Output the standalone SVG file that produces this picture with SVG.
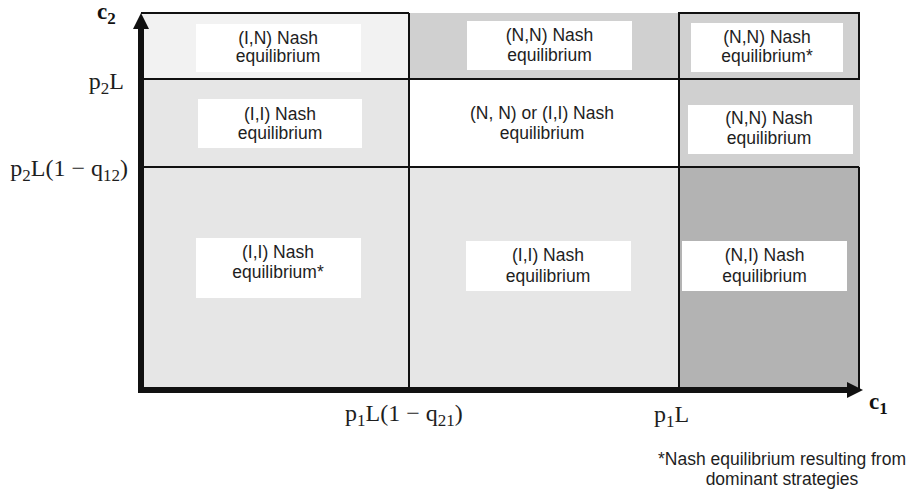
<svg xmlns="http://www.w3.org/2000/svg" width="914" height="489" viewBox="0 0 914 489">
  <defs>
    <style>
      .lbl { font-family: "Liberation Sans", Arial, Helvetica, sans-serif; font-size: 17.5px; fill: #1e1e1e; text-anchor: middle; }
      .box { fill: #ffffff; }
      .grid { stroke: #111111; stroke-width: 2; fill: none; }
      .math { font-family: "Liberation Serif", "Times New Roman", serif; font-size: 24px; fill: #1e1e1e; }
      .axisname { font-family: "Liberation Serif", "Times New Roman", serif; font-size: 23px; font-weight: bold; fill: #111111; }
      .sub { font-size: 17px; }
      .axis { stroke: #111111; stroke-width: 6; fill: none; }
    </style>
    <marker id="head" markerUnits="userSpaceOnUse" markerWidth="17" markerHeight="17" refX="0" refY="8" orient="auto" viewBox="0 0 17 16">
      <polygon points="0,0 16,8 0,16" fill="#111111"/>
    </marker>
  </defs>

  <!-- region fills with their labels -->
  <g id="cell-top-left">
    <rect x="141" y="13" width="268" height="66" fill="#f2f2f2"/>
    <rect class="box" x="196" y="24" width="165" height="48"/>
    <text class="lbl" x="278" y="43.5">(I,N) Nash</text>
    <text class="lbl" x="278" y="62">equilibrium</text>
  </g>
  <g id="cell-top-middle">
    <rect x="409" y="13" width="270" height="66" fill="#d0d0d0"/>
    <rect class="box" x="467" y="21" width="165" height="49"/>
    <text class="lbl" x="549.5" y="41">(N,N) Nash</text>
    <text class="lbl" x="549.5" y="60.5">equilibrium</text>
  </g>
  <g id="cell-top-right">
    <rect x="679" y="13" width="180" height="66" fill="#d0d0d0"/>
    <rect class="box" x="691" y="23" width="152" height="49"/>
    <text class="lbl" x="767" y="42.5">(N,N) Nash</text>
    <text class="lbl" x="767" y="62">equilibrium*</text>
  </g>
  <g id="cell-mid-left">
    <rect x="141" y="79" width="268" height="88" fill="#e6e6e6"/>
    <rect class="box" x="198" y="99" width="164" height="49"/>
    <text class="lbl" x="280" y="119.5">(I,I) Nash</text>
    <text class="lbl" x="280" y="138.5">equilibrium</text>
  </g>
  <g id="cell-mid-middle">
    <rect x="409" y="79" width="270" height="88" fill="#ffffff"/>
    <text class="lbl" x="542" y="119.3">(N, N) or (I,I) Nash</text>
    <text class="lbl" x="542" y="139">equilibrium</text>
  </g>
  <g id="cell-mid-right">
    <rect x="679" y="79" width="181" height="88" fill="#d0d0d0"/>
    <rect class="box" x="688" y="105" width="165" height="49"/>
    <text class="lbl" x="769" y="124">(N,N) Nash</text>
    <text class="lbl" x="769" y="143.5">equilibrium</text>
  </g>
  <g id="cell-bottom-left">
    <rect x="141" y="167" width="268" height="223" fill="#e6e6e6"/>
    <rect class="box" x="196" y="238" width="165" height="60"/>
    <text class="lbl" x="278" y="257.7">(I,I) Nash</text>
    <text class="lbl" x="278" y="278.3">equilibrium*</text>
  </g>
  <g id="cell-bottom-middle">
    <rect x="409" y="167" width="270" height="223" fill="#e6e6e6"/>
    <rect class="box" x="466" y="241" width="165" height="50"/>
    <text class="lbl" x="548" y="261">(I,I) Nash</text>
    <text class="lbl" x="548" y="281.5">equilibrium</text>
  </g>
  <g id="cell-bottom-right">
    <rect x="679" y="167" width="180" height="223" fill="#b3b3b3"/>
    <rect class="box" x="682" y="241" width="165" height="50"/>
    <text class="lbl" x="764.5" y="261">(N,I) Nash</text>
    <text class="lbl" x="764.5" y="281.5">equilibrium</text>
  </g>

  <!-- region boundaries -->
  <g id="grid">
    <line class="grid" x1="141" y1="13" x2="409" y2="13"/>
    <rect class="grid" x="679" y="13" width="180" height="66"/>
    <line class="grid" x1="141" y1="79" x2="859" y2="79"/>
    <line class="grid" x1="141" y1="167" x2="859" y2="167"/>
    <line class="grid" x1="409" y1="13" x2="409" y2="390"/>
    <line class="grid" x1="679" y1="13" x2="679" y2="390"/>
    <line class="grid" x1="859" y1="167" x2="859" y2="390"/>
  </g>

  <!-- axes -->
  <g id="connectors">
    <line class="axis" x1="141" y1="393" x2="141" y2="29" marker-end="url(#head)"/>
    <line class="axis" x1="138" y1="390" x2="847" y2="390" marker-end="url(#head)"/>
  </g>

  <!-- axis names and thresholds -->
  <g id="axis-labels">
    <text class="axisname" x="97" y="18.5">c<tspan class="sub" dy="5">2</tspan></text>
    <text class="axisname" x="869" y="409">c<tspan class="sub" dy="5">1</tspan></text>
    <text class="math" x="124" y="89" text-anchor="end">p<tspan class="sub" dy="5">2</tspan><tspan dy="-5">L</tspan></text>
    <text class="math" x="128" y="176" text-anchor="end">p<tspan class="sub" dy="5">2</tspan><tspan dy="-5">L(1 − q</tspan><tspan class="sub" dy="5">12</tspan><tspan dy="-5">)</tspan></text>
    <text class="math" x="345" y="421">p<tspan class="sub" dy="5">1</tspan><tspan dy="-5">L(1 − q</tspan><tspan class="sub" dy="5">21</tspan><tspan dy="-5">)</tspan></text>
    <text class="math" x="654" y="422">p<tspan class="sub" dy="5">1</tspan><tspan dy="-5">L</tspan></text>
  </g>

  <g id="footnote">
    <text class="lbl" x="782" y="465">*Nash equilibrium resulting from</text>
    <text class="lbl" x="782" y="485">dominant strategies</text>
  </g>
</svg>
